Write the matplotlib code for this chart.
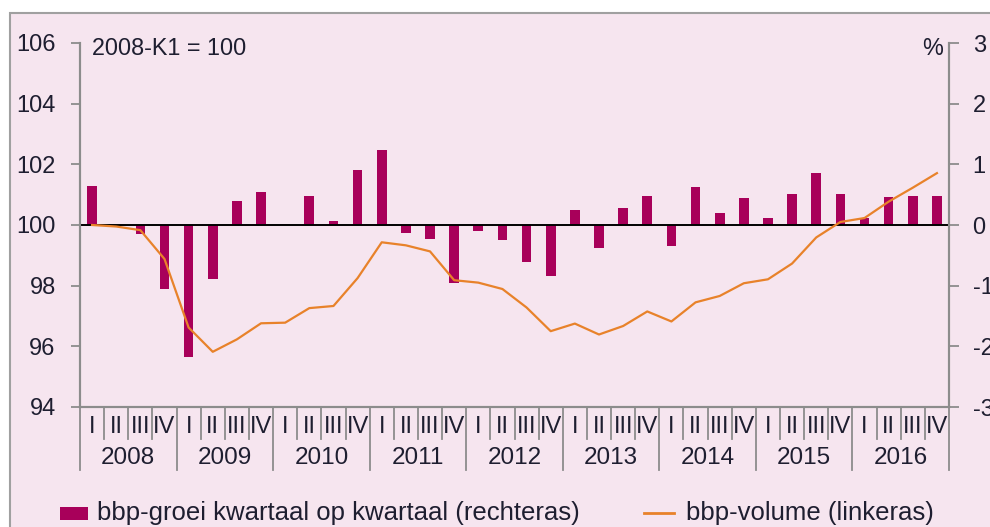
import matplotlib
matplotlib.use("Agg")
import matplotlib.pyplot as plt
from matplotlib.patches import Rectangle
from matplotlib.lines import Line2D
import matplotlib.transforms as mtransforms
import numpy as np

plt.rcParams['font.family'] = ['Liberation Sans', 'DejaVu Sans']
plt.rcParams['axes.unicode_minus'] = False

years = ['2008', '2009', '2010', '2011', '2012', '2013', '2014', '2015', '2016']
quarter_labels = ['I', 'II', 'III', 'IV']

# quarter-on-quarter GDP growth, % (right axis)
growth = [0.64, 0.00, -0.15, -1.05,
          -2.18, -0.89, 0.40, 0.55,
          0.01, 0.47, 0.06, 0.90,
          1.23, -0.13, -0.23, -0.96,
          -0.10, -0.24, -0.61, -0.84,
          0.24, -0.38, 0.28, 0.48,
          -0.35, 0.62, 0.20, 0.44,
          0.11, 0.51, 0.85, 0.51,
          0.12, 0.46, 0.47, 0.48]

# GDP volume index, 2008-K1 = 100 (left axis)
volume = [100.00, 99.95, 99.83, 98.88,
          96.62, 95.82, 96.23, 96.76,
          96.78, 97.26, 97.33, 98.25,
          99.43, 99.33, 99.13, 98.18,
          98.10, 97.89, 97.28, 96.50,
          96.75, 96.39, 96.67, 97.15,
          96.82, 97.45, 97.66, 98.08,
          98.21, 98.73, 99.59, 100.10,
          100.23, 100.77, 101.23, 101.71]

label_bar = 'bbp-groei kwartaal op kwartaal (rechteras)'
label_line = 'bbp-volume (linkeras)'

BG = '#F6E5EF'
BAR = '#A8005A'
LINE = '#E8822A'
GRID = '#8C8C8C'
TXT = '#1E1E30'
FS = 17

W, H = 990, 527
fig = plt.figure(figsize=(W / 100, H / 100), dpi=100)
fig.patch.set_facecolor('white')

# outer frame
fig.patches.append(Rectangle((10 / W, -0.1), 1.2, (H - 13) / H + 0.1,
                             transform=fig.transFigure, facecolor=BG,
                             edgecolor='#A0A0A0', linewidth=1.5, zorder=-5))

ax = fig.add_axes([80 / W, (H - 407) / H, (949 - 80) / W, (407 - 43) / H])
ax2 = ax.twinx()
ax.set_zorder(2)
ax2.set_zorder(1)
ax.patch.set_visible(False)
ax2.patch.set_visible(False)

n = len(growth)
x = np.arange(n)

ax2.bar(x, growth, width=0.4, color=BAR, zorder=2)
ax2.axhline(0, color='black', lw=1.4, zorder=3)
ax.plot(x, volume, color=LINE, lw=1.6, zorder=4)

ax.set_xlim(-0.5, n - 0.5)
ax.set_ylim(94, 106)
ax.set_yticks(np.arange(94, 107, 2))
ax2.set_ylim(-3, 3)
ax2.set_yticks(np.arange(-3, 4, 1))

for a in (ax, ax2):
    for s in a.spines.values():
        s.set_color(GRID)
        s.set_linewidth(1.5)
    a.spines['top'].set_visible(False)
    a.set_xticks([])
ax.tick_params(axis='y', length=6.5, width=1.3, color=GRID, labelsize=FS,
               labelcolor=TXT, pad=11)
ax2.tick_params(axis='y', length=7.5, width=1.3, color=GRID, labelsize=FS,
                labelcolor=TXT, pad=9.5)

# quarter / year separators and labels
trans = mtransforms.blended_transform_factory(ax.transData, ax.transAxes)
axh = 407 - 43
for k in range(n + 1):
    b = k - 0.5
    ln = 63 if k % 4 == 0 else 32
    ax.add_line(Line2D([b, b], [0, -ln / axh], transform=trans, color=GRID,
                       lw=1.3, clip_on=False))
for i in range(n):
    ax.text(i, -20 / axh, quarter_labels[i % 4], transform=trans, ha='center',
            va='center', fontsize=FS, color=TXT)
for j, yname in enumerate(years):
    ax.text(4 * j + 1.5, -51 / axh, yname, transform=trans, ha='center',
            va='center', fontsize=FS + 0.5, color=TXT)

ax.text(0.014, 0.985, '2008-K1 = 100', transform=ax.transAxes, ha='left',
        va='center', fontsize=16.8, color=TXT)
ax.text(0.993, 0.985, '%', transform=ax.transAxes, ha='right',
        va='center', fontsize=16.8, color=TXT)

# legend
ly = (H - 513) / H
fig.patches.append(Rectangle((60 / W, (H - 520) / H), 28 / W, 13 / H,
                             transform=fig.transFigure, facecolor=BAR,
                             edgecolor='none', zorder=3))
fig.text(97 / W, ly, label_bar, ha='left', va='center', fontsize=18.5, color=TXT)
fig.add_artist(Line2D([644 / W, 674 / W], [ly, ly], transform=fig.transFigure,
                      color=LINE, lw=2))
fig.text(686 / W, ly, label_line, ha='left', va='center', fontsize=18.5, color=TXT)

fig.savefig('out.png', dpi=100)
